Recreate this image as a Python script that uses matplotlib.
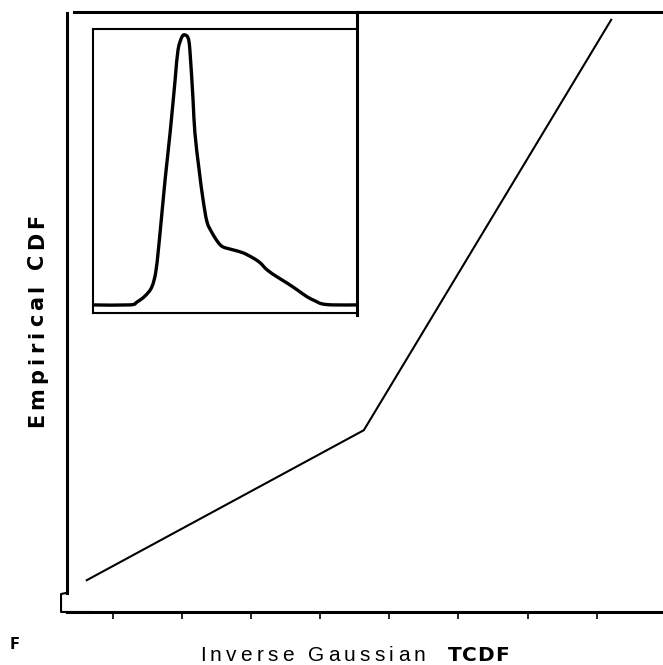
import numpy as np
import matplotlib
matplotlib.use("Agg")
import matplotlib.pyplot as plt
from matplotlib.font_manager import FontProperties
from matplotlib.textpath import TextToPath
from matplotlib.lines import Line2D
from matplotlib.path import Path
from matplotlib.patches import PathPatch

# ---- data ----------------------------------------------------------------
# main plot: empirical CDF against inverse Gaussian theoretical CDF
tcdf_x = [0.062, 0.463, 0.821]
ecdf_y = [0.053, 0.303, 0.987]
x_ticks = [0.1, 0.2, 0.3, 0.4, 0.5, 0.6, 0.7, 0.8]

# inset: shape of the distribution (normalised density)
dens_x = [0.000, 0.140, 0.167, 0.197, 0.223, 0.239, 0.254, 0.273, 0.292,
          0.311, 0.322, 0.337, 0.348, 0.360, 0.367, 0.379, 0.386, 0.402,
          0.417, 0.432, 0.451, 0.473, 0.492, 0.530, 0.568, 0.606, 0.633,
          0.659, 0.697, 0.735, 0.773, 0.811, 0.841, 0.867, 0.909, 1.000]
dens_y = [0.000, 0.000, 0.011, 0.033, 0.067, 0.130, 0.267, 0.463, 0.637,
          0.833, 0.944, 0.993, 1.000, 0.989, 0.944, 0.759, 0.637, 0.500,
          0.389, 0.307, 0.267, 0.233, 0.215, 0.204, 0.193, 0.174, 0.156,
          0.130, 0.104, 0.081, 0.056, 0.030, 0.015, 0.004, 0.000, 0.000]

x_label_main = "Inverse Gaussian"
x_label_bold = "TCDF"
y_label = "Empirical CDF"
panel_label = "F"

# ---- figure --------------------------------------------------------------
W, H, DPI = 663, 665, 100
fig = plt.figure(figsize=(W / DPI, H / DPI), dpi=DPI)
fig.patch.set_facecolor("white")


def px_box(left, top, right, bottom):
    """Axes rectangle from pixel edges (top-left origin)."""
    return [left / W, (H - bottom) / H, (right - left) / W, (bottom - top) / H]


ax = fig.add_axes(px_box(67, 12, 663, 612))
ax.set_xlim(0.0334, 0.896)
ax.set_ylim(0.0, 1.0)
ax.plot(tcdf_x, ecdf_y, color="black", lw=1.5, solid_joinstyle="miter",
        clip_on=False)

ax.spines["right"].set_visible(False)
for side in ("left", "top", "bottom"):
    ax.spines[side].set_linewidth(2.2)
ax.spines["left"].set_bounds(0.032, 0.998)
ax.spines["top"].set_bounds(0.0436, 0.896)
ax.set_xticks(x_ticks)
ax.set_xticklabels([])
ax.set_yticks([])
ax.tick_params(axis="x", direction="out", length=5, width=1.2, color="black")

# small bracket joining the left and bottom axes
ax.add_line(Line2D([0.0, -0.01, -0.01, 0.04], [0.032, 0.030, 0.0, 0.0],
                   transform=ax.transAxes, color="black", lw=1.5,
                   clip_on=False))

# ---- inset ---------------------------------------------------------------
ins = fig.add_axes(px_box(93, 29, 357, 313))
ins.set_xlim(0, 1)
ins.set_ylim(-0.03, 1.022)


def smooth_path(xs, ys):
    """Cubic Bezier path through every point (Catmull-Rom tangents)."""
    p = np.column_stack([xs, ys]).astype(float)
    verts = [p[0]]
    codes = [Path.MOVETO]
    n = len(p)
    for i in range(n - 1):
        p0 = p[max(i - 1, 0)]
        p1, p2 = p[i], p[i + 1]
        p3 = p[min(i + 2, n - 1)]
        c1 = p1 + (p2 - p0) / 6.0
        c2 = p2 - (p3 - p1) / 6.0
        verts += [c1, c2, p2]
        codes += [Path.CURVE4] * 3
    return Path(verts, codes)


ins.add_patch(PathPatch(smooth_path(dens_x, dens_y), facecolor="none",
                        edgecolor="black", lw=2.4, joinstyle="round",
                        capstyle="butt", clip_on=False))
ins.set_xticks([])
ins.set_yticks([])
for side in ("left", "top", "bottom"):
    ins.spines[side].set_linewidth(1.5)
ins.spines["right"].set_visible(False)
# heavy right edge of the inset runs up to the main frame
fig.add_artist(Line2D([357 / W, 357 / W], [(H - 315) / H, (H - 12) / H],
                      transform=fig.transFigure, color="black", lw=2.2))

# ---- letter-spaced labels ------------------------------------------------
t2p = TextToPath()


def tracked_text(s, x_px, y_px, size, track_px, rotation=0, **font):
    """Draw s one glyph at a time with extra spacing (pixel coordinates,
    origin bottom-left, anchor at the baseline start)."""
    fp = FontProperties(size=size, **font)
    ref = "x"
    w_ref = t2p.get_text_width_height_descent(ref, fp, ismath=False)[0]
    for i, ch in enumerate(s):
        if i:
            w = t2p.get_text_width_height_descent(s[:i] + ref, fp,
                                                  ismath=False)[0] - w_ref
        else:
            w = 0.0
        adv = w * DPI / 72 + i * track_px
        if rotation == 90:
            x, y = x_px, y_px + adv
        else:
            x, y = x_px + adv, y_px
        fig.text(x / W, y / H, ch, fontproperties=fp, rotation=rotation,
                 rotation_mode="anchor", ha="left", va="baseline",
                 color="black")


tracked_text(x_label_main, 200, H - 661, 15, 4.2, family="Liberation Sans")
tracked_text(x_label_bold, 448, H - 661, 14.5, 0.5, family="DejaVu Sans",
             weight="bold")
tracked_text(y_label, 43, H - 427, 15, 4.2, rotation=90,
             family="DejaVu Sans", weight="bold")
fig.text(10 / W, (H - 649) / H, panel_label, fontsize=10.5, weight="bold",
         family="DejaVu Sans", ha="left", va="baseline")

fig.savefig("out.png", dpi=DPI, facecolor="white")
